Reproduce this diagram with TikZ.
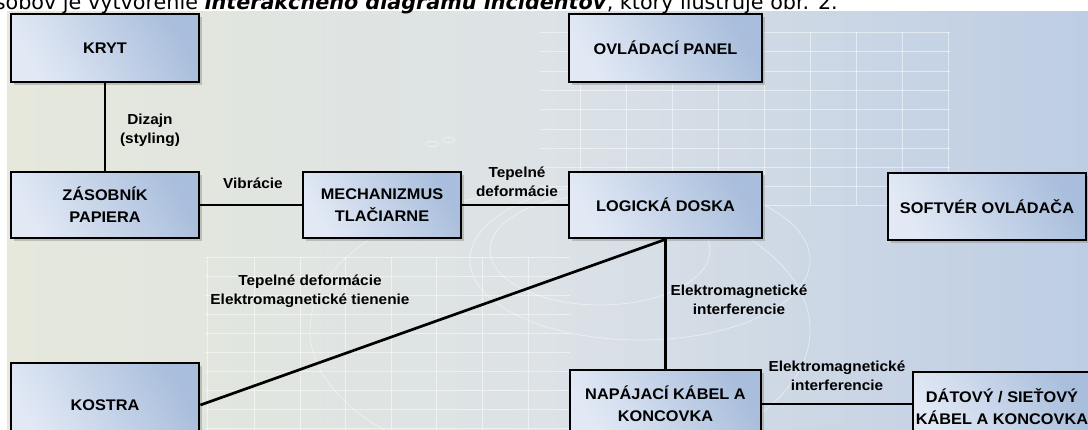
\documentclass[tikz,border=0pt]{standalone}
\usepackage{fontspec}
\setmainfont{Liberation Sans}[FakeStretch=1.06]
\newfontfamily\topfont{DejaVu Sans}
\usetikzlibrary{shadows}

\definecolor{boxA}{HTML}{E2E9F5}
\definecolor{boxB}{HTML}{A9BEDC}
\definecolor{bgL}{HTML}{E5E8DB}
\definecolor{bgM}{HTML}{DCE2E6}
\definecolor{bgR}{HTML}{BDCDE4}

\tikzset{
  box/.style={draw=black, line width=2.8pt, left color=boxA, right color=boxB,
    shading angle=120, align=center, inner sep=0pt,
    drop shadow={shadow xshift=3pt, shadow yshift=-3pt, fill=black!45, opacity=.45},
    font=\bfseries\fontsize{15.4}{22}\selectfont},
  lbl/.style={align=center, inner sep=0pt, font=\bfseries\fontsize{14.5}{19}\selectfont},
  link/.style={line width=2.7pt, black},
  gridln/.style={white, line width=0.7pt, opacity=.5}
}

\begin{document}
\begin{tikzpicture}[x=1pt,y=-1pt]
\useasboundingbox (0,0) rectangle (1088,430);
\clip (0,0) rectangle (1088,430);
\fill[white] (0,0) rectangle (1088,430);

% panel background
\shade[left color=bgL, right color=bgR, middle color=bgM] (7,12) rectangle (1088,430);

% faint grid, upper right
\foreach \gx in {580,626,672,718,764,810,856,902,948}
  \draw[gridln] (\gx,32) -- (\gx,205);
\foreach \gy in {32,51,71,90,109,129,148,167,186,205}
  \draw[gridln] (540,\gy) -- (950,\gy);
% faint grid, lower left
\foreach \gx in {207,254,300,345,391,436,482,528}
  \draw[gridln] (\gx,257) -- (\gx,430);
\foreach \gy in {257,276,295,314,333,352,371,390,409,428}
  \draw[gridln] (205,\gy) -- (570,\gy);
% sweeping arcs
\draw[gridln] (560,330) ellipse (250 and 140);
\draw[gridln] (600,250) ellipse (110 and 55);
\draw[gridln] (640,260) ellipse (170 and 80);
\draw[gridln] (432,144) ellipse (6 and 2.5);
\draw[gridln] (449,140) ellipse (6 and 2.5);

% heading line above the diagram (its top is cut by the page edge)
\node[anchor=base east, inner sep=0pt, font=\topfont\fontsize{20.7}{24}\selectfont]
  (head) at (838,10) {sobov je vytvorenie \textbf{\textit{interakčného diagramu incidentov}}, ktorý ilustruje obr. 2.};
\fill[white] (0,11.5) rectangle (7,430);

% components
\node[box, minimum width=188, minimum height=68] (kryt) at (105,48) {KRYT};
\node[box, minimum width=188, minimum height=66] (zas) at (105,205) {ZÁSOBNÍK\\PAPIERA};
\node[box, minimum width=158, minimum height=66] (mech) at (382,205) {MECHANIZMUS\\TLAČIARNE};
\node[box, minimum width=193, minimum height=68] (ovl) at (665.5,48) {OVLÁDACÍ PANEL};
\node[box, minimum width=193, minimum height=66] (log) at (665.5,205) {LOGICKÁ DOSKA};
\node[box, minimum width=198, minimum height=67] (soft) at (987,206.5) {SOFTVÉR OVLÁDAČA};
\node[box, minimum width=188, minimum height=84] (kostra) at (105,405) {KOSTRA};
\node[box, minimum width=191, minimum height=68] (nap) at (665.5,404) {NAPÁJACÍ KÁBEL A\\KONCOVKA};
\node[box, minimum width=178, minimum height=70] (dat) at (1002,407) {DÁTOVÝ / SIEŤOVÝ\\KÁBEL A KONCOVKA};

% interactions
\draw[link] (kryt.south) -- (zas.north);
\draw[link] (zas.east) -- (mech.west);
\draw[link] (mech.east) -- (log.west);
\draw[link] (log.south) -- (nap.north);
\draw[link] (kostra.east) -- (log.south);
\draw[link] (nap.east) -- (nap.east -| dat.west);

% interaction labels
\node[lbl] (l1) at (150,130) {Dizajn\\(styling)};
\node[lbl] (l2) at (253,183) {Vibrácie};
\node[lbl] (l3) at (517,182) {Tepelné\\deformácie};
\node[lbl] (l4) at (310,291) {Tepelné deformácie\\Elektromagnetické tienenie};
\node[lbl] (l5) at (739,300) {Elektromagnetické\\interferencie};
\node[lbl] (l6) at (837,376) {Elektromagnetické\\interferencie};
\end{tikzpicture}
\end{document}
